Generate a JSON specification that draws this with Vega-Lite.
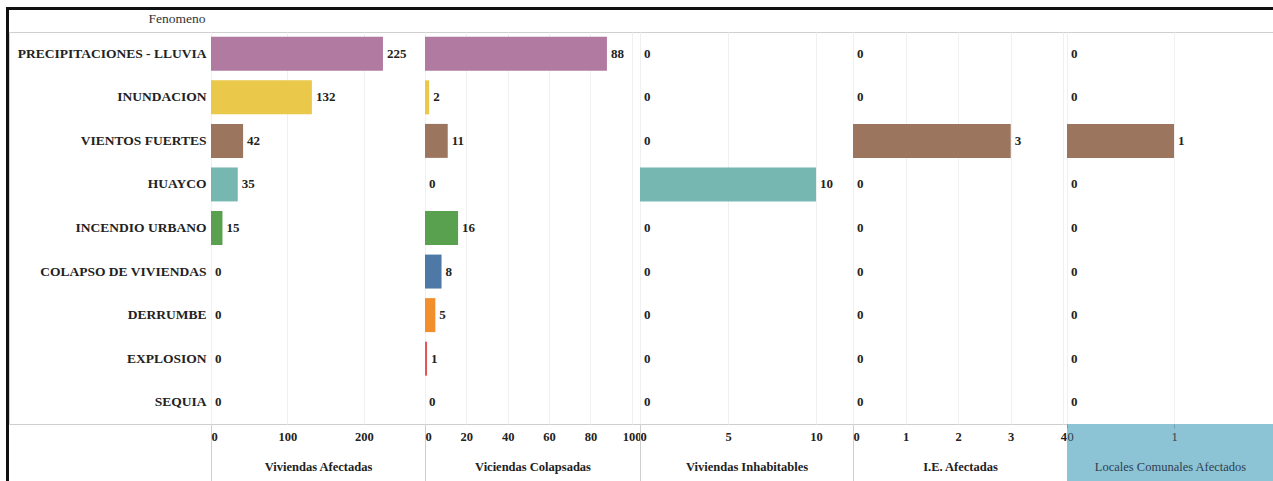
{
  "$schema": "https://vega.github.io/schema/vega-lite/v6.json",
  "padding": {"left": 6, "top": 7, "right": 0, "bottom": 0},
  "autosize": {"type": "pad"},
  "background": "white",
  "datasets": {
    "d": [
      {"Fenomeno": "PRECIPITACIONES - LLUVIA", "afect": 225, "colap": 88, "inhab": 0, "ie": 0, "locales": 0},
      {"Fenomeno": "INUNDACION", "afect": 132, "colap": 2, "inhab": 0, "ie": 0, "locales": 0},
      {"Fenomeno": "VIENTOS FUERTES", "afect": 42, "colap": 11, "inhab": 0, "ie": 3, "locales": 1},
      {"Fenomeno": "HUAYCO", "afect": 35, "colap": 0, "inhab": 10, "ie": 0, "locales": 0},
      {"Fenomeno": "INCENDIO URBANO", "afect": 15, "colap": 16, "inhab": 0, "ie": 0, "locales": 0},
      {"Fenomeno": "COLAPSO DE VIVIENDAS", "afect": 0, "colap": 8, "inhab": 0, "ie": 0, "locales": 0},
      {"Fenomeno": "DERRUMBE", "afect": 0, "colap": 5, "inhab": 0, "ie": 0, "locales": 0},
      {"Fenomeno": "EXPLOSION", "afect": 0, "colap": 1, "inhab": 0, "ie": 0, "locales": 0},
      {"Fenomeno": "SEQUIA", "afect": 0, "colap": 0, "inhab": 0, "ie": 0, "locales": 0}
    ],
    "blank": [{"k": 1}]
  },
  "config": {
    "font": "Liberation Serif",
    "view": {"stroke": "#cfcfcf"},
    "axis": {
      "labelFont": "Liberation Serif",
      "titleFont": "Liberation Serif",
      "labelFontSize": 12.5,
      "labelFontWeight": "bold",
      "labelColor": "#222222",
      "titleColor": "#222222",
      "titleFontSize": 12.5,
      "titleFontWeight": "bold"
    }
  },
  "spacing": 0,
  "bounds": "flush",
  "hconcat": [
    {
      "width": 3, "height": 474,
      "view": {"fill": "#111111", "stroke": null},
      "data": {"name": "blank"},
      "mark": {"type": "bar", "opacity": 0}
    },
    {
      "spacing": 22,
      "bounds": "flush",
      "vconcat": [
        {
          "width": 1264, "height": 3,
          "view": {"fill": "#111111", "stroke": null},
          "data": {"name": "blank"},
          "mark": {"type": "bar", "opacity": 0}
        },
        {
          "spacing": 0,
          "bounds": "flush",
          "resolve": {"scale": {"x": "independent"}},
          "hconcat": [
            {
              "width": 202, "height": 392,
              "data": {"name": "d"},
              "mark": {"type": "tick", "opacity": 0},
              "encoding": {
                "y": {
                  "field": "Fenomeno", "type": "nominal",
                  "scale": {"domain": ["PRECIPITACIONES - LLUVIA", "INUNDACION", "VIENTOS FUERTES", "HUAYCO", "INCENDIO URBANO", "COLAPSO DE VIVIENDAS", "DERRUMBE", "EXPLOSION", "SEQUIA"], "paddingInner": 0.22, "paddingOuter": 0.11},
                  "axis": {
                    "orient": "right", "labelAlign": "right", "labelPadding": -5, "labelLimit": 0,
                    "ticks": false, "tickSize": 0, "domain": false, "grid": false,
                    "labelFontSize": 13.5, "labelFont": "Liberation Serif",
                    "title": "Fenomeno", "titleAngle": 0, "titleAlign": "right",
                    "titleX": -6, "titleY": -14, "titleBaseline": "middle",
                    "titleFont": "Liberation Serif", "titleFontWeight": "normal", "titleFontSize": 13.5, "titleColor": "#333333"
                  }
                }
              }
            },
            {
              "width": 214, "height": 392,
              "data": {"name": "d"},
              "encoding": {
                "y": {"field": "Fenomeno", "type": "nominal", "scale": {"domain": ["PRECIPITACIONES - LLUVIA", "INUNDACION", "VIENTOS FUERTES", "HUAYCO", "INCENDIO URBANO", "COLAPSO DE VIVIENDAS", "DERRUMBE", "EXPLOSION", "SEQUIA"], "paddingInner": 0.22, "paddingOuter": 0.11}, "axis": null},
                "x": {"field": "afect", "type": "quantitative", "scale": {"domain": [0, 280], "nice": false},
                  "axis": {"values": [0, 100, 200], "grid": true, "gridColor": "#f0f0f0", "domain": false, "labelFlush": true,
                    "ticks": true, "tickSize": 57, "tickColor": {"condition": {"test": "datum.value === 0", "value": "#cfcfcf"}, "value": "transparent"},
                    "labelPadding": -51, "title": "Viviendas Afectadas", "titleY": 42, "titleBaseline": "middle"}}
              },
              "layer": [
                {"mark": {"type": "bar"}, "encoding": {"color": {"field": "Fenomeno", "type": "nominal", "legend": null, "scale": {"domain": ["PRECIPITACIONES - LLUVIA", "INUNDACION", "VIENTOS FUERTES", "HUAYCO", "INCENDIO URBANO", "COLAPSO DE VIVIENDAS", "DERRUMBE", "EXPLOSION", "SEQUIA"], "range": ["#b07aa1", "#e9c84a", "#9c755f", "#76b7b2", "#59a14f", "#4e79a7", "#f28e2b", "#e15759", "#bab0ac"]}}}},
                {"mark": {"type": "text", "align": "left", "dx": 4, "fontWeight": "bold", "fontSize": 13, "font": "Liberation Serif", "color": "#222222"}, "encoding": {"text": {"field": "afect", "type": "quantitative"}}}
              ]
            },
            {
              "width": 215, "height": 392,
              "data": {"name": "d"},
              "encoding": {
                "y": {"field": "Fenomeno", "type": "nominal", "scale": {"domain": ["PRECIPITACIONES - LLUVIA", "INUNDACION", "VIENTOS FUERTES", "HUAYCO", "INCENDIO URBANO", "COLAPSO DE VIVIENDAS", "DERRUMBE", "EXPLOSION", "SEQUIA"], "paddingInner": 0.22, "paddingOuter": 0.11}, "axis": null},
                "x": {"field": "colap", "type": "quantitative", "scale": {"domain": [0, 104], "nice": false},
                  "axis": {"values": [0, 20, 40, 60, 80, 100], "grid": true, "gridColor": "#f0f0f0", "domain": false, "labelFlush": true,
                    "ticks": true, "tickSize": 57, "tickColor": {"condition": {"test": "datum.value === 0", "value": "#cfcfcf"}, "value": "transparent"},
                    "labelPadding": -51, "title": "Viciendas Colapsadas", "titleY": 42, "titleBaseline": "middle"}}
              },
              "layer": [
                {"mark": {"type": "bar"}, "encoding": {"color": {"field": "Fenomeno", "type": "nominal", "legend": null, "scale": {"domain": ["PRECIPITACIONES - LLUVIA", "INUNDACION", "VIENTOS FUERTES", "HUAYCO", "INCENDIO URBANO", "COLAPSO DE VIVIENDAS", "DERRUMBE", "EXPLOSION", "SEQUIA"], "range": ["#b07aa1", "#e9c84a", "#9c755f", "#76b7b2", "#59a14f", "#4e79a7", "#f28e2b", "#e15759", "#bab0ac"]}}}},
                {"mark": {"type": "text", "align": "left", "dx": 4, "fontWeight": "bold", "fontSize": 13, "font": "Liberation Serif", "color": "#222222"}, "encoding": {"text": {"field": "colap", "type": "quantitative"}}}
              ]
            },
            {
              "width": 213, "height": 392,
              "data": {"name": "d"},
              "encoding": {
                "y": {"field": "Fenomeno", "type": "nominal", "scale": {"domain": ["PRECIPITACIONES - LLUVIA", "INUNDACION", "VIENTOS FUERTES", "HUAYCO", "INCENDIO URBANO", "COLAPSO DE VIVIENDAS", "DERRUMBE", "EXPLOSION", "SEQUIA"], "paddingInner": 0.22, "paddingOuter": 0.11}, "axis": null},
                "x": {"field": "inhab", "type": "quantitative", "scale": {"domain": [0, 12.1], "nice": false},
                  "axis": {"values": [0, 5, 10], "grid": true, "gridColor": "#f0f0f0", "domain": false, "labelFlush": true,
                    "ticks": true, "tickSize": 57, "tickColor": {"condition": {"test": "datum.value === 0", "value": "#cfcfcf"}, "value": "transparent"},
                    "labelPadding": -51, "title": "Viviendas Inhabitables", "titleY": 42, "titleBaseline": "middle"}}
              },
              "layer": [
                {"mark": {"type": "bar"}, "encoding": {"color": {"field": "Fenomeno", "type": "nominal", "legend": null, "scale": {"domain": ["PRECIPITACIONES - LLUVIA", "INUNDACION", "VIENTOS FUERTES", "HUAYCO", "INCENDIO URBANO", "COLAPSO DE VIVIENDAS", "DERRUMBE", "EXPLOSION", "SEQUIA"], "range": ["#b07aa1", "#e9c84a", "#9c755f", "#76b7b2", "#59a14f", "#4e79a7", "#f28e2b", "#e15759", "#bab0ac"]}}}},
                {"mark": {"type": "text", "align": "left", "dx": 4, "fontWeight": "bold", "fontSize": 13, "font": "Liberation Serif", "color": "#222222"}, "encoding": {"text": {"field": "inhab", "type": "quantitative"}}}
              ]
            },
            {
              "width": 214, "height": 392,
              "data": {"name": "d"},
              "encoding": {
                "y": {"field": "Fenomeno", "type": "nominal", "scale": {"domain": ["PRECIPITACIONES - LLUVIA", "INUNDACION", "VIENTOS FUERTES", "HUAYCO", "INCENDIO URBANO", "COLAPSO DE VIVIENDAS", "DERRUMBE", "EXPLOSION", "SEQUIA"], "paddingInner": 0.22, "paddingOuter": 0.11}, "axis": null},
                "x": {"field": "ie", "type": "quantitative", "scale": {"domain": [0, 4.07], "nice": false},
                  "axis": {"values": [0, 1, 2, 3, 4], "grid": true, "gridColor": "#f0f0f0", "domain": false, "labelFlush": true,
                    "ticks": true, "tickSize": 57, "tickColor": {"condition": {"test": "datum.value === 0", "value": "#cfcfcf"}, "value": "transparent"},
                    "labelPadding": -51, "title": "I.E. Afectadas", "titleY": 42, "titleBaseline": "middle"}}
              },
              "layer": [
                {"mark": {"type": "bar"}, "encoding": {"color": {"field": "Fenomeno", "type": "nominal", "legend": null, "scale": {"domain": ["PRECIPITACIONES - LLUVIA", "INUNDACION", "VIENTOS FUERTES", "HUAYCO", "INCENDIO URBANO", "COLAPSO DE VIVIENDAS", "DERRUMBE", "EXPLOSION", "SEQUIA"], "range": ["#b07aa1", "#e9c84a", "#9c755f", "#76b7b2", "#59a14f", "#4e79a7", "#f28e2b", "#e15759", "#bab0ac"]}}}},
                {"mark": {"type": "text", "align": "left", "dx": 4, "fontWeight": "bold", "fontSize": 13, "font": "Liberation Serif", "color": "#222222"}, "encoding": {"text": {"field": "ie", "type": "quantitative"}}}
              ]
            },
            {
              "spacing": 0,
              "bounds": "flush",
              "vconcat": [
                {
                  "width": 206, "height": 392,
                  "data": {"name": "d"},
                  "encoding": {
                    "y": {"field": "Fenomeno", "type": "nominal", "scale": {"domain": ["PRECIPITACIONES - LLUVIA", "INUNDACION", "VIENTOS FUERTES", "HUAYCO", "INCENDIO URBANO", "COLAPSO DE VIVIENDAS", "DERRUMBE", "EXPLOSION", "SEQUIA"], "paddingInner": 0.22, "paddingOuter": 0.11}, "axis": null},
                    "x": {"field": "locales", "type": "quantitative", "scale": {"domain": [0, 1.925], "nice": false},
                      "axis": {"values": [0, 1], "grid": true, "gridColor": "#f0f0f0", "domain": false, "labels": false, "ticks": false, "title": null}}
                  },
                  "layer": [
                    {"mark": {"type": "bar"}, "encoding": {"color": {"field": "Fenomeno", "type": "nominal", "legend": null, "scale": {"domain": ["PRECIPITACIONES - LLUVIA", "INUNDACION", "VIENTOS FUERTES", "HUAYCO", "INCENDIO URBANO", "COLAPSO DE VIVIENDAS", "DERRUMBE", "EXPLOSION", "SEQUIA"], "range": ["#b07aa1", "#e9c84a", "#9c755f", "#76b7b2", "#59a14f", "#4e79a7", "#f28e2b", "#e15759", "#bab0ac"]}}}},
                    {"mark": {"type": "text", "align": "left", "dx": 4, "fontWeight": "bold", "fontSize": 13, "font": "Liberation Serif", "color": "#222222"}, "encoding": {"text": {"field": "locales", "type": "quantitative"}}}
                  ]
                },
                {
                  "width": 206, "height": 57,
                  "view": {"fill": "#8cc3d5", "stroke": null},
                  "data": {"name": "d"},
                  "mark": {"type": "tick", "opacity": 0},
                  "encoding": {
                    "x": {"field": "locales", "type": "quantitative", "scale": {"domain": [0, 1.925], "nice": false},
                      "axis": {"values": [0, 1], "grid": false, "domain": false, "labelFlush": true, "offset": -57,
                        "ticks": true, "tickSize": 4, "tickColor": "#6f9fb0",
                        "labelPadding": 2, "labelFontWeight": "normal", "labelColor": "#2f3f4f",
                        "title": "Locales Comunales Afectados", "titleFontWeight": "normal", "titleColor": "#2f3f4f", "titleY": 42, "titleBaseline": "middle"}}
                  }
                }
              ]
            }
          ]
        }
      ]
    }
  ]
}
